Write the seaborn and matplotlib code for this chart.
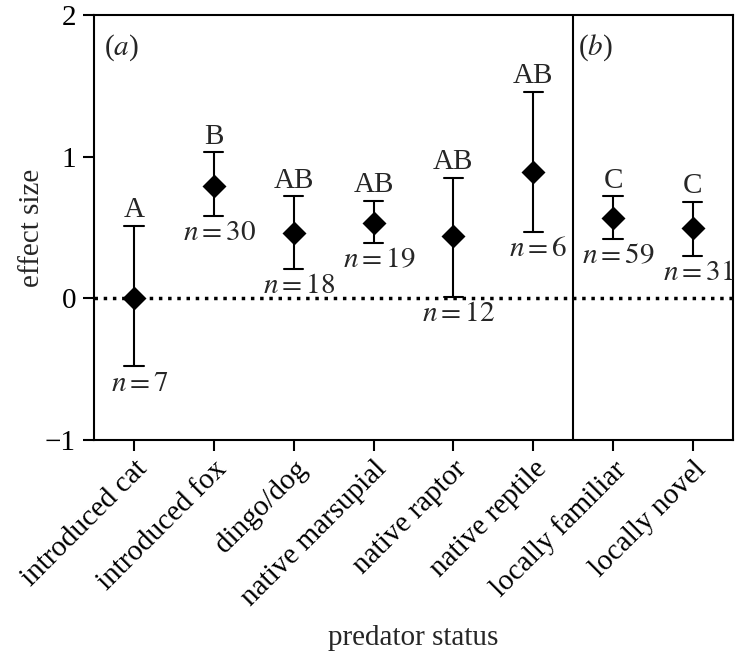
import pandas as pd
import seaborn as sns
import matplotlib.pyplot as plt

categories = ['introduced cat', 'introduced fox', 'dingo/dog', 'native marsupial',
              'native raptor', 'native reptile', 'locally familiar', 'locally novel']
effect = [0.00, 0.79, 0.46, 0.53, 0.44, 0.89, 0.57, 0.50]
lower = [-0.48, 0.58, 0.21, 0.39, 0.01, 0.47, 0.42, 0.30]
upper = [0.51, 1.03, 0.72, 0.69, 0.85, 1.46, 0.72, 0.68]
letters = ['A', 'B', 'AB', 'AB', 'AB', 'AB', 'C', 'C']
n_sizes = [7, 30, 18, 19, 12, 6, 59, 31]

sns.set_style('ticks')
plt.rcParams['font.family'] = ['Liberation Serif', 'DejaVu Serif']
plt.rcParams['mathtext.fontset'] = 'stix'
plt.rcParams['axes.linewidth'] = 1.5
plt.rcParams['xtick.major.width'] = 1.5
plt.rcParams['ytick.major.width'] = 1.5

# long-form table: lower / effect / upper per category so the median gives the
# point estimate and the full range gives the interval
rows = []
for c, lo, m, hi in zip(categories, lower, effect, upper):
    for v in (lo, m, hi):
        rows.append([c, v])
df = pd.DataFrame(rows, columns=['predator status', 'effect size'])

fig = plt.figure(figsize=(7.35, 6.53), dpi=100)
ax = fig.add_axes([0.128, 0.326, 0.869, 0.651])

sns.pointplot(data=df, x='predator status', y='effect size', order=categories,
              estimator='median', errorbar=('pi', 100), color='black',
              linestyle='none', marker='D', markersize=10, capsize=0.24,
              err_kws={'linewidth': 1.5}, ax=ax)

ax.axhline(0, color='black', linestyle=':', linewidth=2.5, zorder=0)
ax.axvline(5.5, color='black', linewidth=1.5)

fs = 21
for i in range(len(categories)):
    ax.annotate(letters[i], (i, upper[i]), xytext=(0, 2), textcoords='offset points',
                ha='center', va='bottom', fontsize=fs)
    ax.annotate(r'$n = %d$' % n_sizes[i], (i, lower[i]), xytext=(4, -3),
                textcoords='offset points', ha='center', va='top', fontsize=fs)

ax.text(0.015, 0.96, r'($a$)', transform=ax.transAxes, fontsize=fs, va='top')
ax.text(0.757, 0.96, r'($b$)', transform=ax.transAxes, fontsize=fs, va='top')

ax.set_xlim(-0.5, 7.5)
ax.set_ylim(-1, 2)
ax.set_yticks([-1, 0, 1, 2])
ax.tick_params(axis='both', labelsize=fs, length=8, color='black', labelcolor='black')
ax.tick_params(axis='y', pad=5)
plt.setp(ax.get_xticklabels(), rotation=45, ha='right', rotation_mode='anchor')
for s in ax.spines.values():
    s.set_visible(True)
    s.set_color('black')

ax.set_xlabel('predator status', fontsize=fs, labelpad=10)
ax.set_ylabel('effect size', fontsize=fs, labelpad=0)

fig.savefig('out.png', dpi=100)
